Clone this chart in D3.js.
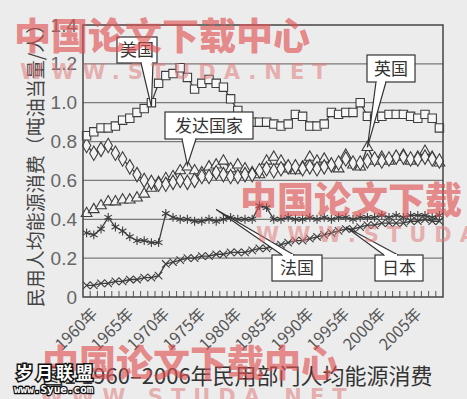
<!DOCTYPE html>
<html>
<head>
<meta charset="utf-8">
<script src="https://cdn.jsdelivr.net/npm/d3@7"></script>
<style>
  body { margin: 0; background: #ececec; }
  svg { display: block; font-family: "Noto Sans CJK SC", "DejaVu Sans", sans-serif; }
</style>
</head>
<body>
<div id="chart"></div>
<script>
// years on the category axis
const years = d3.range(1960, 2010);
const tickYears = [1960, 1965, 1970, 1975, 1980, 1985, 1990, 1995, 2000, 2005];
const yTicks = [0, 0.2, 0.4, 0.6, 0.8, 1.0, 1.2, 1.4];

// values (toe per person)
const usa = [0.83, 0.85, 0.87, 0.87, 0.88, 0.91, 0.92, 0.95, 0.97, 1.00,
  1.10, 1.14, 1.15, 1.18, 1.13, 1.07, 1.10, 1.12, 1.10, 1.08,
  1.02, 0.96, 0.92, 0.90, 0.90, 0.90, 0.89, 0.88, 0.89, 0.94,
  0.93, 0.88, 0.88, 0.89, 0.95, 0.94, 0.95, 0.95, 1.00, 0.93,
  0.92, 0.93, 0.94, 0.94, 0.94, 0.93, 0.92, 0.94, 0.92, 0.87];
const developed = [0.78, 0.74, 0.76, 0.78, 0.74, 0.71, 0.67, 0.63, 0.60, 0.59,
  0.58, 0.58, 0.59, 0.60, 0.59, 0.60, 0.62, 0.62, 0.64, 0.63,
  0.62, 0.62, 0.63, 0.63, 0.65, 0.66, 0.65, 0.66, 0.67, 0.67,
  0.66, 0.67, 0.66, 0.67, 0.68, 0.69, 0.71, 0.69, 0.69, 0.70,
  0.71, 0.70, 0.71, 0.72, 0.72, 0.71, 0.71, 0.72, 0.71, 0.70];
const uk = [0.43, 0.45, 0.47, 0.49, 0.49, 0.50, 0.50, 0.51, 0.53, 0.56,
  0.59, 0.61, 0.62, 0.65, 0.67, 0.65, 0.64, 0.67, 0.68, 0.70,
  0.66, 0.68, 0.66, 0.64, 0.63, 0.70, 0.72, 0.70, 0.66, 0.65,
  0.67, 0.72, 0.70, 0.71, 0.68, 0.66, 0.73, 0.68, 0.67, 0.77,
  0.70, 0.72, 0.70, 0.72, 0.73, 0.70, 0.72, 0.75, 0.72, 0.69];
const france = [0.33, 0.32, 0.35, 0.41, 0.36, 0.34, 0.31, 0.29, 0.29, 0.28,
  0.28, 0.43, 0.41, 0.40, 0.40, 0.39, 0.39, 0.40, 0.39, 0.40,
  0.41, 0.40, 0.40, 0.40, 0.47, 0.46, 0.40, 0.40, 0.41, 0.40,
  0.40, 0.41, 0.40, 0.41, 0.40, 0.41, 0.41, 0.40, 0.41, 0.41,
  0.41, 0.42, 0.41, 0.42, 0.41, 0.42, 0.42, 0.42, 0.41, 0.42];
const japan = [0.06, 0.06, 0.07, 0.07, 0.08, 0.08, 0.09, 0.09, 0.10, 0.10,
  0.11, 0.17, 0.18, 0.19, 0.20, 0.20, 0.21, 0.21, 0.22, 0.22,
  0.23, 0.23, 0.23, 0.24, 0.25, 0.25, 0.26, 0.27, 0.28, 0.29,
  0.29, 0.30, 0.31, 0.32, 0.33, 0.34, 0.35, 0.35, 0.36, 0.37,
  0.37, 0.38, 0.38, 0.38, 0.38, 0.39, 0.39, 0.40, 0.39, 0.39];

const width = 467, height = 399;
const margin = { top: 25, right: 24, bottom: 102, left: 83 };

const svg = d3.select("#chart").append("svg")
  .attr("width", width)
  .attr("height", height);

svg.append("rect").attr("width", width).attr("height", height).attr("fill", "#ececec");

const x = d3.scaleBand().domain(years).range([margin.left, width - margin.right]).padding(0);
const y = d3.scaleLinear().domain([0, 1.4]).range([height - margin.bottom, margin.top]);
const cx = (yr) => x(yr) + x.bandwidth() / 2;

// gridlines
svg.append("g")
  .selectAll("line")
  .data(yTicks.slice(1, -1))
  .join("line")
  .attr("x1", margin.left).attr("x2", width - margin.right)
  .attr("y1", (d) => y(d)).attr("y2", (d) => y(d))
  .attr("stroke", "#7a7a7a").attr("stroke-width", 1.2);

// y axis labels
svg.append("g")
  .attr("transform", "translate(" + margin.left + ",0)")
  .call(d3.axisLeft(y).tickValues(yTicks).tickSize(0).tickPadding(6)
    .tickFormat((d) => (d === 0 ? "0" : d3.format(".1f")(d))))
  .call((g) => g.select(".domain").remove())
  .selectAll("text")
  .attr("font-size", 19)
  .attr("font-family", "Liberation Sans, Arial, sans-serif")
  .attr("fill", "#666");

// x axis with inward yearly ticks
const xAxis = svg.append("g").attr("transform", "translate(0," + y(0) + ")");
xAxis.selectAll("line")
  .data(years.slice(1))
  .join("line")
  .attr("x1", (d) => x(d)).attr("x2", (d) => x(d))
  .attr("y1", 0).attr("y2", -6)
  .attr("stroke", "#555").attr("stroke-width", 1);
xAxis.selectAll("text")
  .data(tickYears)
  .join("text")
  .attr("transform", (d) => "translate(" + (cx(d) + 4) + ",10) rotate(-45)")
  .attr("text-anchor", "end")
  .attr("dy", "0.7em")
  .attr("font-size", 16)
  .attr("fill", "#555")
  .text((d) => d + "年");

// series
const series = [
  { name: "日本", values: japan, symbol: d3.symbolX, size: 38, fill: "none" },
  { name: "法国", values: france, symbol: d3.symbolAsterisk, size: 55, fill: "none" },
  { name: "英国", values: uk, symbol: d3.symbolTriangle, size: 50, fill: "#f2f2f2" },
  { name: "发达国家", values: developed, symbol: d3.symbolDiamond, size: 60, fill: "#f2f2f2" },
  { name: "美国", values: usa, symbol: d3.symbolSquare, size: 70, fill: "#f6f6f6" },
];

const line = d3.line().x((d, i) => cx(years[i])).y((d) => y(d));

series.forEach((s) => {
  const g = svg.append("g");
  g.append("path")
    .datum(s.values)
    .attr("d", line)
    .attr("fill", "none")
    .attr("stroke", "#3d3d3d")
    .attr("stroke-width", 1.3);
  g.selectAll("path.m")
    .data(s.values)
    .join("path")
    .attr("class", "m")
    .attr("transform", (d, i) => "translate(" + cx(years[i]) + "," + y(d) + ")")
    .attr("d", d3.symbol().type(s.symbol).size(s.size))
    .attr("fill", s.fill)
    .attr("stroke", "#3d3d3d")
    .attr("stroke-width", 1.1);
});

// plot frame
svg.append("rect")
  .attr("x", margin.left).attr("y", margin.top)
  .attr("width", width - margin.left - margin.right)
  .attr("height", y(0) - margin.top)
  .attr("fill", "none")
  .attr("stroke", "#444").attr("stroke-width", 1.5);

// callouts: box position in pixels, tip at a data point
const callouts = [
  { text: "美国", bx: 117, by: 37, bw: 40, bh: 26, base: [141, 153], year: 1969, value: 0.98 },
  { text: "发达国家", bx: 165, by: 112, bw: 88, bh: 27, base: [182, 196], year: 1974, value: 0.68 },
  { text: "英国", bx: 367, by: 55, bw: 48, bh: 27, base: [376, 386], year: 1999, value: 0.77 },
  { text: "法国", bx: 272, by: 255, bw: 50, bh: 26, base: [282, 294], year: 1978, value: 0.45 },
  { text: "日本", bx: 375, by: 255, bw: 48, bh: 26, base: [384, 398], year: 1996, value: 0.36 },
];

callouts.forEach((c) => {
  const tx = cx(c.year), ty = y(c.value);
  const below = ty > c.by;
  const edge = below ? c.by + c.bh : c.by;
  const g = svg.append("g");
  g.append("rect")
    .attr("x", c.bx).attr("y", c.by).attr("width", c.bw).attr("height", c.bh)
    .attr("fill", "#ffffff").attr("stroke", "#333").attr("stroke-width", 1.2);
  g.append("path")
    .attr("d", "M" + c.base[0] + "," + edge + "L" + tx + "," + ty + "L" + c.base[1] + "," + edge)
    .attr("fill", "#ffffff").attr("stroke", "#333").attr("stroke-width", 1.2);
  g.append("line")
    .attr("x1", c.base[0] + 1).attr("x2", c.base[1] - 1)
    .attr("y1", edge).attr("y2", edge)
    .attr("stroke", "#fff").attr("stroke-width", 2);
  g.append("text")
    .attr("x", c.bx + c.bw / 2).attr("y", c.by + c.bh / 2)
    .attr("text-anchor", "middle").attr("dy", "0.36em")
    .attr("font-size", 17).attr("fill", "#333")
    .text(c.text);
});

// y axis title
svg.append("text")
  .attr("transform", "translate(36," + (margin.top + (y(0) - margin.top) / 2) + ") rotate(-90)")
  .attr("text-anchor", "middle")
  .attr("dy", "0.36em")
  .attr("font-size", 19)
  .attr("fill", "#444")
  .text("民用人均能源消费（吨油当量/人）");

// caption
svg.append("text")
  .attr("x", 42).attr("y", 384)
  .attr("font-size", 22)
  .attr("fill", "#333")
  .text("图1 1960–2006年民用部门人均能源消费");

// watermarks
const marks = [
  { t: "中国论文下载中心", x: 14, y: 50, s: 37 },
  { t: "中国论文下载", x: 240, y: 214, s: 37 },
  { t: "中国论文下载中心", x: 42, y: 377, s: 37 },
];
svg.append("g").selectAll("text").data(marks).join("text")
  .attr("x", (d) => d.x).attr("y", (d) => d.y)
  .attr("font-size", (d) => d.s)
  .attr("font-weight", "900")
  .attr("fill", "#e05050").attr("fill-opacity", 0.65)
  .text((d) => d.t);

const urls = [
  { x: 20, y: 79 },
  { x: 256, y: 242 },
  { x: 40, y: 404 },
];
svg.append("g").selectAll("text").data(urls).join("text")
  .attr("x", (d) => d.x).attr("y", (d) => d.y)
  .attr("font-size", 21)
  .attr("font-weight", "bold")
  .attr("letter-spacing", 8)
  .attr("font-family", "DejaVu Sans, sans-serif")
  .attr("fill", "#e07a7a").attr("fill-opacity", 0.55)
  .text("WWW.STUDA.NET");

// site logo
const logo = svg.append("g");
logo.append("text")
  .attr("x", 16).attr("y", 379)
  .attr("font-size", 17).attr("font-weight", "bold")
  .attr("letter-spacing", 3)
  .attr("fill", "#fff").attr("stroke", "#111").attr("stroke-width", 3)
  .attr("paint-order", "stroke")
  .text("岁月联盟");
logo.append("text")
  .attr("x", 14).attr("y", 393)
  .attr("font-size", 11).attr("font-weight", "bold")
  .attr("font-family", "DejaVu Sans Mono, monospace")
  .attr("fill", "#fff").attr("stroke", "#111").attr("stroke-width", 2.5)
  .attr("paint-order", "stroke")
  .text("www.Syue.com");
</script>
</body>
</html>
